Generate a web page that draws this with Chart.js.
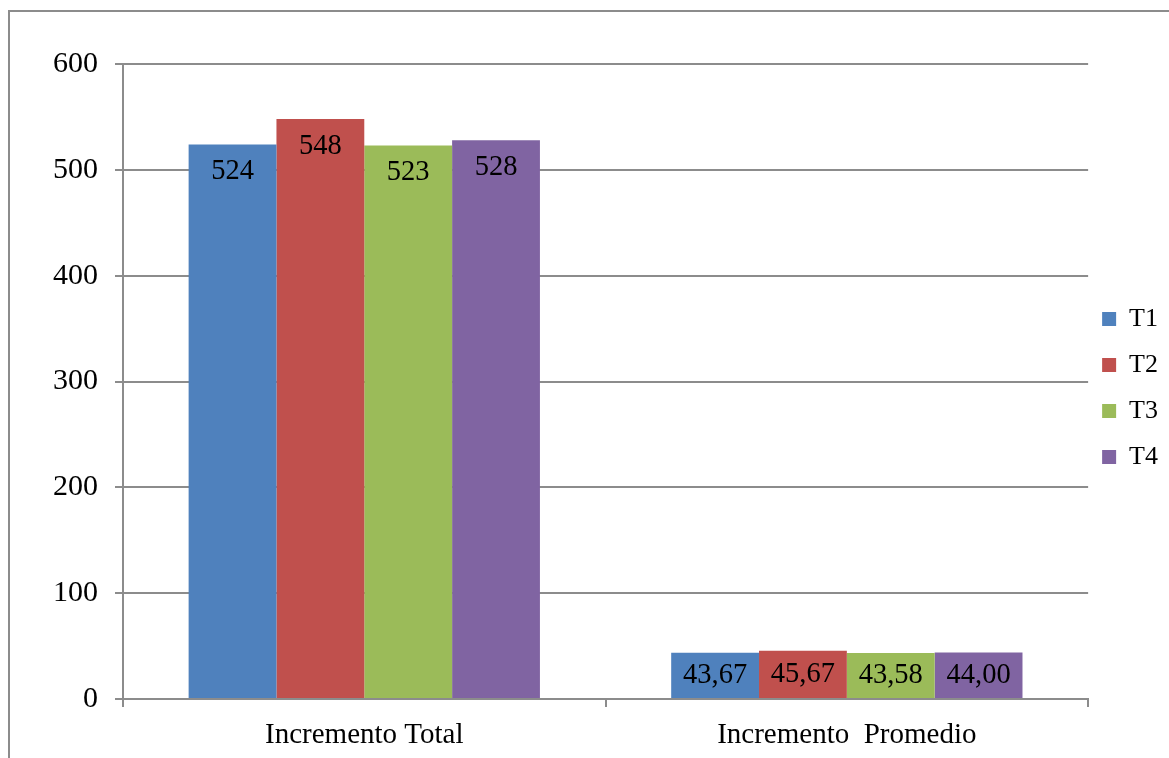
<!DOCTYPE html>
<html>
<head>
<meta charset="utf-8">
<script src="https://cdn.jsdelivr.net/npm/chart.js@4.4.0/dist/chart.umd.min.js"></script>
<style>
  html, body { margin: 0; padding: 0; background: #fff; }
</style>
</head>
<body>
<canvas id="myChart" width="1169" height="758"></canvas>
<script>
// chart data
var categories = ['Incremento Total', 'Incremento  Promedio'];
var seriesNames = ['T1', 'T2', 'T3', 'T4'];
var t1 = [524, 43.67];
var t2 = [548, 45.67];
var t3 = [523, 43.58];
var t4 = [528, 44.00];
var yTicks = [0, 100, 200, 300, 400, 500, 600];
var decimals = [0, 2];

var colors = ['#4F81BD', '#C0504D', '#9BBB59', '#8064A2'];
var fontFamily = '"Liberation Serif", "Times New Roman", serif';

function formatValue(v, index) {
    return v.toFixed(decimals[index]).replace('.', ',');
}

// thin frame on the left and top edges
var framePlugin = {
    id: 'frame',
    beforeDraw: function (chart) {
        var c = chart.ctx;
        c.save();
        c.strokeStyle = '#8c8c8c';
        c.lineWidth = 2;
        c.beginPath();
        c.moveTo(9, chart.height);
        c.lineTo(9, 11);
        c.lineTo(chart.width, 11);
        c.stroke();
        c.restore();
    }
};

// nudge the legend box up and left a bit
var legendNudge = {
    id: 'legendNudge',
    afterLayout: function (chart) {
        var lg = chart.legend;
        if (!lg) return;
        lg.left -= 6;
        lg.right -= 6;
        lg.top -= 23;
        lg.bottom -= 23;
    }
};

// value labels inside the top of each bar
var valueLabels = {
    id: 'valueLabels',
    afterDatasetsDraw: function (chart) {
        var c = chart.ctx;
        c.save();
        c.font = '28.5px ' + fontFamily;
        c.fillStyle = '#000';
        c.textAlign = 'center';
        c.textBaseline = 'middle';
        chart.data.datasets.forEach(function (ds, i) {
            var meta = chart.getDatasetMeta(i);
            meta.data.forEach(function (bar, j) {
                var y = Math.min(bar.y + 27, (bar.y + bar.base) / 2);
                c.fillText(formatValue(ds.data[j], j), bar.x, y);
            });
        });
        c.restore();
    }
};

var datasets = [t1, t2, t3, t4].map(function (values, i) {
    return {
        label: seriesNames[i],
        data: values,
        backgroundColor: colors[i],
        borderWidth: 0,
        barPercentage: 1,
        categoryPercentage: 0.728
    };
});

Chart.defaults.color = '#000';
Chart.defaults.font.family = fontFamily;
Chart.defaults.font.size = 29;

var ctx = document.getElementById('myChart');
var currentChart = new Chart(ctx, {
    type: 'bar',
    data: { labels: categories, datasets: datasets },
    options: {
        responsive: false,
        animation: false,
        layout: { padding: { top: 64, right: -5, bottom: 0, left: 0 } },
        plugins: {
            legend: {
                position: 'right',
                align: 'center',
                labels: {
                    boxWidth: 14,
                    boxHeight: 14,
                    padding: 20,
                    font: { size: 26 }
                }
            },
            tooltip: { enabled: false }
        },
        scales: {
            x: {
                grid: {
                    offset: true,
                    drawOnChartArea: false,
                    tickLength: 8,
                    color: '#8c8c8c',
                    lineWidth: 2
                },
                border: { color: '#8c8c8c', width: 2 },
                ticks: { padding: 11 },
                afterFit: function (scale) { scale.height = 59; }
            },
            y: {
                min: 0,
                max: 600,
                afterBuildTicks: function (scale) {
                    scale.ticks = yTicks.map(function (v) { return { value: v }; });
                },
                grid: {
                    tickLength: 8,
                    color: '#8c8c8c',
                    lineWidth: 2
                },
                border: { color: '#8c8c8c', width: 2 },
                ticks: { padding: 17, font: { size: 30 } },
                afterFit: function (scale) { scale.width = 123; }
            }
        }
    },
    plugins: [framePlugin, legendNudge, valueLabels]
});
</script>
</body>
</html>
